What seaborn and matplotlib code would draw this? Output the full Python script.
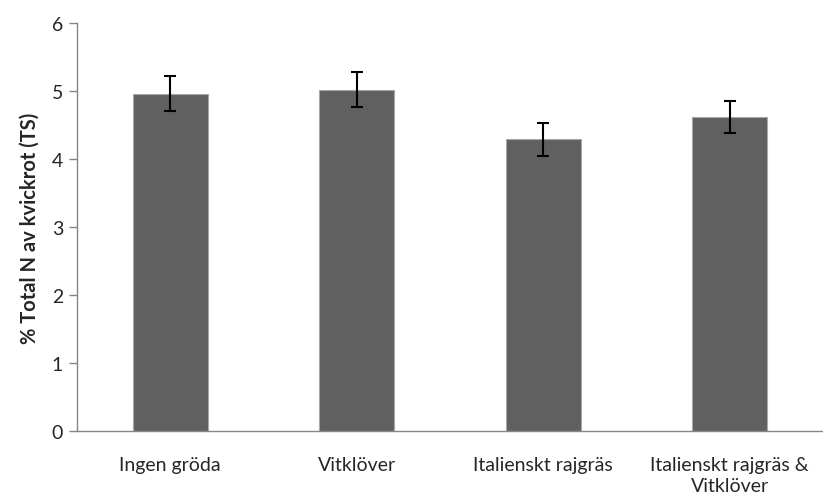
import pandas as pd
import matplotlib
matplotlib.use('Agg')
import matplotlib.pyplot as plt
import seaborn as sns

categories = ['Ingen gröda', 'Vitklöver', 'Italienskt rajgräs', 'Italienskt rajgräs &\nVitklöver']
values = [4.96, 5.02, 4.29, 4.62]
errors = [0.255, 0.255, 0.245, 0.24]
yticks = [0, 1, 2, 3, 4, 5, 6]

df = pd.DataFrame({'crop': categories, 'n': values})

sns.set_style('white')
plt.rcParams['font.family'] = ['Lato', 'DejaVu Sans']

fig = plt.figure(figsize=(8.23, 5.02), dpi=100)
ax = fig.add_axes([0.0936, 0.1394, 0.9064, 0.8126])

sns.barplot(data=df, x='crop', y='n', color='#606060', saturation=1,
            width=0.40, errorbar=None, edgecolor='#a8a8a8', linewidth=0.8, ax=ax)
ax.errorbar(range(len(categories)), values, yerr=errors, fmt='none',
            ecolor='black', elinewidth=1.5, capsize=4, capthick=1.5)

ax.set_xlim(-0.5, 3.5)
ax.set_ylim(0, 6)
ax.set_yticks(yticks)
ax.set_xlabel('')
ax.set_ylabel('% Total N av kvickrot (TS)', fontsize=14.5, fontweight='bold', labelpad=9)

for s in ['top', 'right']:
    ax.spines[s].set_visible(False)
for s in ['left', 'bottom']:
    ax.spines[s].set_color('#868686')
    ax.spines[s].set_linewidth(1.0)

ax.tick_params(axis='y', length=6, width=1, color='#868686', labelsize=14, pad=4, left=True)
ax.tick_params(axis='x', length=0, labelsize=14, pad=18)
for lbl in ax.get_xticklabels():
    lbl.set_linespacing(1.3)

fig.savefig('out.png', dpi=100)
